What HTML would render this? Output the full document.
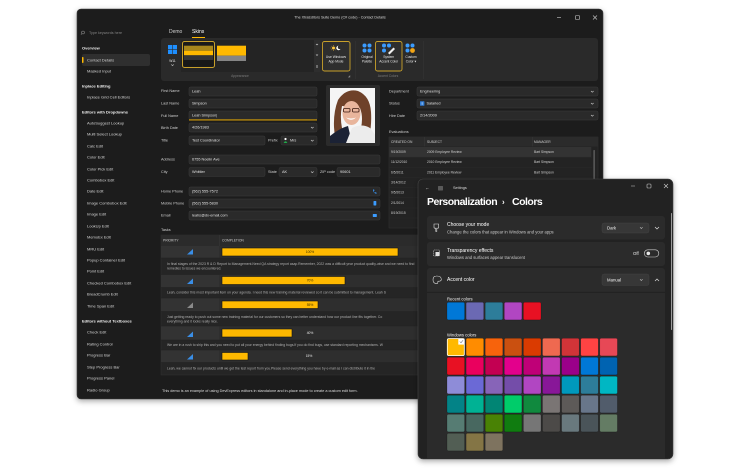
<!DOCTYPE html>
<html><head><meta charset="utf-8"><style>
html,body{margin:0;padding:0;background:#fff;}
svg{display:block}
text{font-family:"Liberation Sans",sans-serif;dominant-baseline:central}
.sb{font-size:4px;fill:#d4d4d4}
.sh{font-size:4px;fill:#f2f2f2;font-weight:bold}
.lb{font-size:3.8px;fill:#cfcfcf}
.iv{font-size:3.8px;fill:#e0e0e0}
.sm{font-size:3.3px;fill:#e6e6e6}
.gh{font-size:3.3px;fill:#cfcfcf}
.ds{font-size:3.4px;fill:#b0b0b0}
.inp{fill:#2a2a2a;stroke:#3a3a3a;stroke-width:0.5}
.chev{fill:none;stroke:#cfcfcf;stroke-width:0.6}
.st{font-size:5px;fill:#fff}
.ss{font-size:4.2px;fill:#c8c8c8}
.sw{stroke:rgba(0,0,0,0.35);stroke-width:0.5}
</style></head><body>
<svg xmlns="http://www.w3.org/2000/svg" width="750" height="476" viewBox="0 0 750 476">
<defs>
<filter id="sh" x="-10%" y="-10%" width="120%" height="125%"><feDropShadow dx="0" dy="2" stdDeviation="3" flood-color="#000" flood-opacity="0.35"/></filter>
<clipPath id="ph"><rect x="330" y="88" width="45" height="55"/></clipPath>
<clipPath id="sc"><rect x="418" y="179" width="255" height="280" rx="5"/></clipPath>
</defs>
<rect width="750" height="476" fill="#fff"/>

<!-- MAIN WINDOW -->
<rect x="77" y="9" width="526" height="390" rx="4" fill="#1e1e1e" stroke="#3c3c3c" stroke-width="0.6" filter="url(#sh)"/>
<text x="340" y="17.5" text-anchor="middle" font-size="3.7" fill="#dcdcdc">The XtraEditors Suite Demo (C# code) - Contact Details</text>
<line x1="557" y1="17.5" x2="561" y2="17.5" stroke="#ccc" stroke-width="0.6"/>
<rect x="575.5" y="15.5" width="4" height="4" rx="0.8" fill="none" stroke="#ccc" stroke-width="0.6"/>
<path d="M593 15.5 L597 19.5 M597 15.5 L593 19.5" stroke="#ccc" stroke-width="0.6"/>

<!-- sidebar -->
<circle cx="83" cy="32.5" r="1.5" fill="none" stroke="#aaa" stroke-width="0.5"/>
<line x1="82" y1="33.6" x2="81" y2="34.8" stroke="#aaa" stroke-width="0.5"/>
<text x="89" y="33" font-size="3.7" fill="#858585">Type keywords here</text>
<text x="82" y="48" class="sh">Overview</text>
<rect x="82" y="54" width="68" height="12" rx="2" fill="#2f2f2f"/>
<rect x="82" y="57" width="1.5" height="6" rx="0.7" fill="#ffb900"/>
<text x="87" y="60" class="sb">Contact Details</text>
<text x="87" y="71" class="sb">Masked Input</text>
<text x="82" y="86" class="sh">Inplace Editing</text>
<text x="87" y="97" class="sb">Inplace Grid Cell Editors</text>
<text x="82" y="112" class="sh">Editors with Dropdowns</text>
<text x="87" y="123" class="sb">AutoSuggest Lookup</text>
<text x="87" y="134" class="sb">Multi Select Lookup</text>
<text x="87" y="146" class="sb">Calc Edit</text>
<text x="87" y="157" class="sb">Color Edit</text>
<text x="87" y="169" class="sb">Color Pick Edit</text>
<text x="87" y="180" class="sb">Combobox Edit</text>
<text x="87" y="191" class="sb">Date Edit</text>
<text x="87" y="203" class="sb">Image Combobox Edit</text>
<text x="87" y="214" class="sb">Image Edit</text>
<text x="87" y="226" class="sb">LookUp Edit</text>
<text x="87" y="237" class="sb">MemoEx Edit</text>
<text x="87" y="249" class="sb">MRU Edit</text>
<text x="87" y="260" class="sb">Popup Container Edit</text>
<text x="87" y="271" class="sb">Point Edit</text>
<text x="87" y="283" class="sb">Checked Combobox Edit</text>
<text x="87" y="294" class="sb">BreadCrumb Edit</text>
<text x="87" y="306" class="sb">Time Span Edit</text>
<text x="82" y="321" class="sh">Editors without Textboxes</text>
<text x="87" y="332" class="sb">Check Edit</text>
<text x="87" y="344" class="sb">Rating Control</text>
<text x="87" y="355" class="sb">Progress Bar</text>
<text x="87" y="367" class="sb">Step Progress Bar</text>
<text x="87" y="378" class="sb">Progress Panel</text>
<text x="87" y="390" class="sb">Radio Group</text>

<!-- tabs -->
<text x="169" y="32" font-size="5" fill="#cfcfcf">Demo</text>
<text x="192" y="32" font-size="5" fill="#fff">Skins</text>
<rect x="192" y="37" width="13" height="1" fill="#ffb900"/>

<!-- ribbon -->
<rect x="161" y="38" width="437" height="43" rx="3" fill="#2a2a2a"/>
<rect x="168" y="45" width="4.2" height="4.2" fill="#1e8fff"/>
<rect x="172.8" y="45" width="4.2" height="4.2" fill="#1e8fff"/>
<rect x="168" y="49.8" width="4.2" height="4.2" fill="#1e8fff"/>
<rect x="172.8" y="49.8" width="4.2" height="4.2" fill="#1e8fff"/>
<text x="172.5" y="61" text-anchor="middle" class="sm">W11</text>
<polyline points="171.3,64.5 172.5,65.6 173.7,64.5" class="chev"/>
<rect x="181" y="40" width="133" height="32" fill="#242424"/>
<rect x="182.5" y="41.5" width="32" height="26" rx="2" fill="#1a1a1a" stroke="#c8a02a" stroke-width="1"/>
<rect x="184" y="45.7" width="29" height="5" fill="#a8871c"/>
<rect x="184" y="50.7" width="29" height="4.6" fill="#ffb900"/>
<rect x="184" y="55.3" width="29" height="4.7" fill="#353535"/>
<rect x="184" y="60" width="29" height="6" fill="#181818"/>
<rect x="217" y="45.7" width="29" height="10" fill="#ffb900"/>
<rect x="217" y="55.7" width="29" height="5.3" fill="#858585"/>
<rect x="314" y="40" width="6" height="32" fill="#2e2e2e"/>
<polyline points="316,45 317,44 318,45" class="chev"/>
<polyline points="316,54.5 317,55.5 318,54.5" class="chev"/>
<path d="M316 65.5 H318 M316 66.5 H318 M316 67.5 H318" stroke="#ccc" stroke-width="0.4"/>
<text x="240" y="76" text-anchor="middle" font-size="3.3" fill="#7a7a7a">Appearance</text>
<rect x="322.5" y="41.5" width="27.5" height="29.5" rx="2" fill="#2e2e2e" stroke="#c8a02a" stroke-width="0.9"/>
<circle cx="333.5" cy="48" r="1.5" fill="#ffc83d"/>
<path d="M333.5 45 V45.8 M333.5 50.2 V51 M330.5 48 H331.3 M335.7 48 H336.5 M331.4 45.9 L332 46.5 M335 49.5 L335.6 50.1 M331.4 50.1 L332 49.5" stroke="#ffc83d" stroke-width="0.5"/>
<circle cx="338.5" cy="48" r="2.2" fill="#fff"/>
<circle cx="339.6" cy="47.2" r="1.8" fill="#2e2e2e"/>
<text x="336" y="57" text-anchor="middle" class="sm">Use Windows</text>
<text x="336" y="61.5" text-anchor="middle" class="sm">App Mode</text>
<text x="349" y="76" text-anchor="middle" font-size="3" fill="#888">◢</text>
<line x1="355.5" y1="41" x2="355.5" y2="79" stroke="#363636" stroke-width="0.5"/>
<circle cx="364.5" cy="45.5" r="2" fill="#3b9cff"/>
<circle cx="369.5" cy="45.5" r="2" fill="#3b9cff"/>
<circle cx="364.5" cy="50.5" r="2" fill="#3b9cff"/>
<circle cx="369.5" cy="50.5" r="2" fill="#3b9cff"/>
<text x="367" y="57" text-anchor="middle" class="sm">Original</text>
<text x="367" y="61.5" text-anchor="middle" class="sm">Palette</text>
<rect x="375.5" y="41.5" width="26.5" height="29.5" rx="2" fill="#2e2e2e" stroke="#c8a02a" stroke-width="0.9"/>
<circle cx="384" cy="45.5" r="2" fill="#3b9cff"/>
<circle cx="389" cy="45.5" r="2" fill="#3b9cff"/>
<circle cx="384" cy="50.5" r="2" fill="#3b9cff"/>
<path d="M388 53 L393.5 47.5 L395 49 L389.5 54.5 Z" fill="#f0f0f0"/>
<text x="388.7" y="57" text-anchor="middle" class="sm">System</text>
<text x="388.7" y="61.5" text-anchor="middle" class="sm">Accent Color</text>
<circle cx="407.5" cy="45.5" r="2" fill="#3b9cff"/>
<circle cx="412.5" cy="45.5" r="2" fill="#3b9cff"/>
<circle cx="407.5" cy="50.5" r="2" fill="#3b9cff"/>
<circle cx="412.5" cy="50.5" r="2.4" fill="#f2a516"/>
<text x="411" y="57" text-anchor="middle" class="sm">Custom</text>
<text x="411" y="61.5" text-anchor="middle" class="sm">Color ▾</text>
<text x="388" y="76" text-anchor="middle" font-size="3.3" fill="#7a7a7a">Accent Colors</text>
<line x1="423.5" y1="41" x2="423.5" y2="79" stroke="#363636" stroke-width="0.5"/>

<!-- left form -->
<text x="161" y="91" class="lb">First Name</text>
<rect x="189" y="87" width="128" height="9" rx="1.5" class="inp"/>
<text x="192" y="91.5" class="iv">Leah</text>
<text x="161" y="103.5" class="lb">Last Name</text>
<rect x="189" y="99" width="128" height="9" rx="1.5" class="inp"/>
<text x="192" y="103.5" class="iv">Simpson</text>
<text x="161" y="116" class="lb">Full Name</text>
<rect x="189" y="111" width="128" height="9" rx="1.5" class="inp"/>
<rect x="189" y="119.5" width="128" height="0.9" fill="#ffb900"/>
<text x="192" y="115.5" class="iv">Leah Simpson|</text>
<text x="161" y="128" class="lb">Birth Date</text>
<rect x="189" y="123" width="128" height="9" rx="1.5" class="inp"/>
<text x="192" y="127.5" class="iv">4/26/1983</text>
<polyline points="311,127 312.3,128.2 313.6,127" class="chev"/>
<text x="161" y="140.5" class="lb">Title</text>
<rect x="189" y="136" width="76" height="9" rx="1.5" class="inp"/>
<text x="192" y="140.5" class="iv">Test Coordinator</text>
<text x="268" y="140.5" class="lb">Prefix</text>
<rect x="281" y="136" width="36" height="9" rx="1.5" class="inp"/>
<circle cx="285.5" cy="139" r="1.1" fill="#fff"/>
<path d="M283.6 143 Q285.5 139.6 287.4 143 Z" fill="#22a84a"/>
<text x="290" y="140.5" class="iv">Mrs</text>
<polyline points="311,140 312.3,141.2 313.6,140" class="chev"/>

<text x="161" y="159.5" class="lb">Address</text>
<rect x="189" y="155" width="191" height="9" rx="1.5" class="inp"/>
<text x="192" y="159.5" class="iv">6755 Noelin Ave</text>
<text x="161" y="172" class="lb">City</text>
<rect x="189" y="167.5" width="76" height="9" rx="1.5" class="inp"/>
<text x="192" y="172" class="iv">Whittier</text>
<text x="268" y="172" class="lb">State</text>
<rect x="279" y="167.5" width="38" height="9" rx="1.5" class="inp"/>
<text x="282" y="172" class="iv">AK</text>
<polyline points="311,171.5 312.3,172.7 313.6,171.5" class="chev"/>
<text x="320" y="172" class="lb">ZIP code</text>
<rect x="337" y="167.5" width="43" height="9" rx="1.5" class="inp"/>
<text x="340" y="172" class="iv">90601</text>
<text x="161" y="191.5" class="lb">Home Phone</text>
<rect x="189" y="187" width="191" height="9" rx="1.5" class="inp"/>
<text x="192" y="191.5" class="iv">(562) 555-7572</text>
<path d="M373 189.5 Q373.3 193.5 376.5 193.8 L376.5 192.6 L375.3 192.3 L374.6 192.8 Q373.9 192.1 373.8 191.3 L374.4 190.8 L374.1 189.5 Z" fill="#3b9cff"/>
<text x="161" y="203.5" class="lb">Mobile Phone</text>
<rect x="189" y="199" width="191" height="9" rx="1.5" class="inp"/>
<text x="192" y="203.5" class="iv">(562) 555-5830</text>
<rect x="373.5" y="201" width="2.8" height="4.5" rx="0.6" fill="#3b9cff"/>
<text x="161" y="215.5" class="lb">Email</text>
<rect x="189" y="211" width="191" height="9" rx="1.5" class="inp"/>
<text x="192" y="215.5" class="iv">leahs@dx-email.com</text>
<rect x="372.8" y="214" width="4" height="3" rx="0.4" fill="#3b9cff"/>

<!-- photo -->
<rect x="326" y="85" width="54" height="61" rx="2" fill="#2b2b2b"/>
<g clip-path="url(#ph)">
<rect x="330" y="88" width="45" height="55" fill="#f5f5f5"/>
<path d="M336 143 Q331 118 338 100 Q346 88 358 91 Q370 96 371 112 Q372 128 368 140 L360 132 Q364 118 360 108 L342 106 Q339 120 344 136 Z" fill="#6e4129"/>
<ellipse cx="351.5" cy="113" rx="9" ry="12" fill="#e8b59c"/>
<path d="M342 106 Q350 96 361 104 Q358 99 351 98 Q344 99 342 106 Z" fill="#6e4129"/>
<rect x="343.5" y="108.5" width="6.5" height="3.5" rx="1" fill="none" stroke="#3a1a10" stroke-width="0.8"/>
<rect x="352.5" y="108.5" width="6.5" height="3.5" rx="1" fill="none" stroke="#3a1a10" stroke-width="0.8"/>
<path d="M346 117.5 Q351 122 356 117.5 Q351 119.5 346 117.5 Z" fill="#fff"/>
<path d="M330 143 L330 136 Q340 128 348 126 L352 143 Z" fill="#1b2235"/>
<path d="M346 143 L352 128 Q362 123 370 128 L376 136 L376 143 Z" fill="#ececec"/>
</g>

<!-- right form -->
<text x="389" y="91.5" class="lb">Department</text>
<rect x="417" y="87" width="181" height="9" rx="1.5" class="inp"/>
<text x="420" y="91.5" class="iv">Engineering</text>
<polyline points="591,91 592.3,92.2 593.6,91" class="chev"/>
<text x="389" y="103.5" class="lb">Status</text>
<rect x="417" y="99" width="181" height="9" rx="1.5" class="inp"/>
<rect x="420" y="101.3" width="4.4" height="4.4" rx="0.5" fill="#2e7bd6"/>
<text x="422.2" y="103.6" text-anchor="middle" font-size="3" fill="#fff">S</text>
<text x="426.5" y="103.5" class="iv">Salaried</text>
<polyline points="591,103 592.3,104.2 593.6,103" class="chev"/>
<text x="389" y="116" class="lb">Hire Date</text>
<rect x="417" y="111" width="181" height="9" rx="1.5" class="inp"/>
<text x="420" y="115.5" class="iv">2/14/2009</text>
<polyline points="591,115 592.3,116.2 593.6,115" class="chev"/>

<text x="389" y="132" class="lb">Evaluations</text>
<rect x="389" y="137" width="209" height="91" fill="#232323" stroke="#333" stroke-width="0.5"/>
<rect x="389" y="137" width="209" height="9.5" fill="#2b2b2b"/>
<text x="391" y="141.8" class="gh">CREATED ON</text>
<text x="427" y="141.8" class="gh">SUBJECT</text>
<text x="534" y="141.8" class="gh">MANAGER</text>
<line x1="424.5" y1="137" x2="424.5" y2="146.5" stroke="#3a3a3a" stroke-width="0.5"/>
<line x1="532.5" y1="137" x2="532.5" y2="146.5" stroke="#3a3a3a" stroke-width="0.5"/>
<rect x="389.3" y="147" width="202" height="10" fill="#333"/>
<g stroke="#2c2c2c" stroke-width="0.4">
<line x1="389" y1="157.2" x2="592" y2="157.2"/><line x1="389" y1="167.3" x2="592" y2="167.3"/><line x1="389" y1="177.5" x2="592" y2="177.5"/><line x1="389" y1="187.6" x2="592" y2="187.6"/><line x1="389" y1="197.8" x2="592" y2="197.8"/><line x1="389" y1="208" x2="592" y2="208"/><line x1="389" y1="218" x2="592" y2="218"/>
</g>
<text x="391" y="152" class="gh" fill="#e6e6e6">9/19/2009</text>
<text x="427" y="152" class="gh">2009 Employee Review</text>
<text x="534" y="152" class="gh">Bart Simpson</text>
<text x="391" y="162.2" class="gh">11/12/2010</text>
<text x="427" y="162.2" class="gh">2010 Employee Review</text>
<text x="534" y="162.2" class="gh">Bart Simpson</text>
<text x="391" y="172.3" class="gh">6/5/2011</text>
<text x="427" y="172.3" class="gh">2011 Employee Review</text>
<text x="534" y="172.3" class="gh">Bart Simpson</text>
<text x="391" y="182.5" class="gh">3/14/2012</text>
<text x="391" y="192.6" class="gh">9/5/2013</text>
<text x="391" y="202.8" class="gh">2/1/2014</text>
<text x="391" y="213" class="gh">8/19/2015</text>
<rect x="593.5" y="150" width="1.2" height="50" rx="0.6" fill="#6a6a6a"/>

<!-- tasks -->
<text x="161" y="230" class="lb">Tasks</text>
<rect x="161" y="235" width="437" height="140" fill="#252525" stroke="#303030" stroke-width="0.5"/>
<rect x="161" y="235" width="437" height="11" fill="#2b2b2b"/>
<text x="163" y="240.5" class="gh">PRIORITY</text>
<text x="222" y="240.5" class="gh">COMPLETION</text>
<line x1="219.5" y1="235" x2="219.5" y2="246" stroke="#3a3a3a" stroke-width="0.5"/>

<!-- row bars backgrounds -->
<rect x="161" y="246" width="437" height="12" fill="#2e2e2e"/>
<rect x="161" y="246" width="58" height="12" fill="#333"/>
<rect x="161" y="274.5" width="437" height="13" fill="#2e2e2e"/>
<rect x="161" y="274.5" width="58" height="13" fill="#333"/>
<rect x="161" y="298" width="437" height="13.5" fill="#2e2e2e"/>
<rect x="161" y="298" width="58" height="13.5" fill="#333"/>
<rect x="161" y="326" width="437" height="14" fill="#2e2e2e"/>
<rect x="161" y="326" width="58" height="14" fill="#333"/>
<rect x="161" y="350" width="437" height="12.5" fill="#2e2e2e"/>
<rect x="161" y="350" width="58" height="12.5" fill="#333"/>
<g stroke="#222" stroke-width="0.5">
<line x1="161" y1="258" x2="598" y2="258"/><line x1="161" y1="274.5" x2="598" y2="274.5"/><line x1="161" y1="287.5" x2="598" y2="287.5"/><line x1="161" y1="298" x2="598" y2="298"/><line x1="161" y1="311.5" x2="598" y2="311.5"/><line x1="161" y1="326" x2="598" y2="326"/><line x1="161" y1="340" x2="598" y2="340"/><line x1="161" y1="350" x2="598" y2="350"/><line x1="161" y1="362.5" x2="598" y2="362.5"/>
</g>
<!-- priority icons -->
<g fill="#3a8ee6">
<path d="M187 254.5 L193 249 L193 254.5 Z"/>
<path d="M187 284 L193 278.5 L193 284 Z"/>
<path d="M187 337 L193 331.5 L193 337 Z"/>
<path d="M187 359.5 L193 354 L193 359.5 Z"/>
</g>
<path d="M187 308 L193 302.5 L193 308 Z" fill="#8a8a8a"/>
<!-- bars -->
<g stroke="#151515" stroke-width="0.6" fill="#ffb900">
<rect x="222" y="248" width="176" height="8"/>
<rect x="222" y="276.5" width="123" height="8"/>
<rect x="222" y="301" width="96" height="7.5"/>
<rect x="222" y="329" width="70" height="8"/>
<rect x="222" y="352.5" width="26" height="7.5"/>
</g>
<text x="310" y="252.2" text-anchor="middle" font-size="3.3" fill="#3a3000">100%</text>
<text x="310" y="280.6" text-anchor="middle" font-size="3.3" fill="#3a3000">70%</text>
<text x="310" y="304.8" text-anchor="middle" font-size="3.3" fill="#3a3000">55%</text>
<text x="310" y="333" text-anchor="middle" font-size="3.3" fill="#e6e6e6">40%</text>
<text x="309" y="356.2" text-anchor="middle" font-size="3.3" fill="#e6e6e6">15%</text>
<!-- descriptions -->
<text x="167" y="264" class="ds">In final stages of the 2023 R &amp; D Report to Management.Need QA strategy report asap.Remember, 2022 was a difficult year product quality-wise and we need to find</text>
<text x="167" y="268.5" class="ds">remedies to issues we encountered.</text>
<text x="167" y="292.5" class="ds">Leah, consider this most important item on your agenda. I need this new training material reviewed so it can be submitted to management. Leah S</text>
<text x="167" y="317" class="ds">Just getting ready to push out some new training material for our customers so they can better understand how our product line fits together. Co</text>
<text x="167" y="321.5" class="ds">everything and it looks really nice.</text>
<text x="167" y="345" class="ds">We are in a rush to ship this and you need to put all your energy behind finding bugs.If you do find bugs, use standard reporting mechanisms. W</text>
<text x="167" y="368.5" class="ds">Leah, we cannot fix our products until we get the test report from you.Please send everything you have by e-mail as I can distribute it in the</text>

<text x="162" y="391" font-size="3.8" fill="#dcdcdc">This demo is an example of using DevExpress editors in standalone and in-place mode to create a custom edit form.</text>

<!-- SETTINGS WINDOW -->
<rect x="418" y="179" width="255" height="280" rx="5" fill="#202020" stroke="#444" stroke-width="0.6" filter="url(#sh)"/>
<g clip-path="url(#sc)">
<text x="425" y="188" font-size="4.5" fill="#ccc">←</text>
<rect x="438" y="186" width="5" height="4.5" rx="0.6" fill="#5a5a5a"/>
<text x="453" y="188" font-size="3.8" fill="#dcdcdc">Settings</text>
<line x1="631" y1="186" x2="635" y2="186" stroke="#ccc" stroke-width="0.6"/>
<rect x="647" y="184" width="4" height="4" rx="0.8" fill="none" stroke="#ccc" stroke-width="0.6"/>
<path d="M664 184 L668 188 M668 184 L664 188" stroke="#ccc" stroke-width="0.6"/>
<text x="427" y="202" font-size="10.5" font-weight="bold" letter-spacing="-0.5" fill="#fff">Personalization</text>
<text x="502" y="202" font-size="8" font-weight="bold" fill="#fff">›</text>
<text x="512" y="202" font-size="10.5" font-weight="bold" letter-spacing="-0.5" fill="#fff">Colors</text>

<!-- card 1 -->
<rect x="427" y="216" width="238" height="23.5" rx="3" fill="#2b2b2b"/>
<path d="M434 224 h4.6 v3.2 q0 1 -1 1 h-0.8 v3.3 h-1 v-3.3 h-0.8 q-1 0 -1 -1 Z" fill="none" stroke="#e0e0e0" stroke-width="0.6"/>
<text x="447" y="225" class="st">Choose your mode</text>
<text x="447" y="232" class="ss">Change the colors that appear in Windows and your apps</text>
<rect x="602" y="223" width="47" height="10" rx="2" fill="#373737" stroke="#444" stroke-width="0.4"/>
<text x="607" y="228" font-size="4.3" fill="#eee">Dark</text>
<polyline points="640,227.3 641.3,228.5 642.6,227.3" class="chev"/>
<polyline points="655,227 657,229 659,227" fill="none" stroke="#ddd" stroke-width="0.7"/>

<!-- card 2 -->
<rect x="427" y="242" width="238" height="24" rx="3" fill="#2b2b2b"/>
<rect x="433.5" y="250" width="6" height="6" rx="0.8" fill="none" stroke="#e0e0e0" stroke-width="0.6" stroke-dasharray="1.2 0.8"/>
<rect x="435.5" y="252" width="4" height="4" fill="#e0e0e0"/>
<text x="447" y="251" class="st">Transparency effects</text>
<text x="447" y="257.5" class="ss">Windows and surfaces appear translucent</text>
<text x="633" y="253.5" font-size="4.3" fill="#eee">Off</text>
<rect x="644.3" y="249.8" width="14.5" height="7.2" rx="3.6" fill="none" stroke="#d0d0d0" stroke-width="0.6"/>
<circle cx="648.3" cy="253.4" r="1.8" fill="#e8e8e8"/>

<!-- card 3 -->
<rect x="427" y="268" width="238" height="200" rx="3" fill="#2b2b2b"/>
<line x1="427" y1="292.3" x2="665" y2="292.3" stroke="#1f1f1f" stroke-width="0.8"/>
<path d="M436.5 276 q-3.5 0 -3.5 3.8 q0 3.8 3.8 3.8 q1.2 0 1 -1.2 q-0.3 -1.2 1 -1.2 q2.5 0 2.5 -2 q0 -3.2 -4.8 -3.2 Z" fill="none" stroke="#e0e0e0" stroke-width="0.6"/>
<text x="447" y="280" class="st">Accent color</text>
<rect x="602" y="274" width="47" height="11.5" rx="2" fill="#373737" stroke="#444" stroke-width="0.4"/>
<text x="607" y="280" font-size="4.3" fill="#eee">Manual</text>
<polyline points="640,279.3 641.3,280.5 642.6,279.3" class="chev"/>
<polyline points="655,281 657,279 659,281" fill="none" stroke="#ddd" stroke-width="0.7"/>

<text x="447" y="299" font-size="4.2" fill="#eee">Recent colors</text>
<rect class="sw" x="447" y="302.3" width="17.6" height="17.6" rx="1.5" fill="#0078d7"/>
<rect class="sw" x="466.1" y="302.3" width="17.6" height="17.6" rx="1.5" fill="#6b69b3"/>
<rect class="sw" x="485.2" y="302.3" width="17.6" height="17.6" rx="1.5" fill="#2d7d9a"/>
<rect class="sw" x="504.3" y="302.3" width="17.6" height="17.6" rx="1.5" fill="#b146c2"/>
<rect class="sw" x="523.4" y="302.3" width="17.6" height="17.6" rx="1.5" fill="#e81123"/>

<text x="447" y="335" font-size="4.2" fill="#eee">Windows colors</text>
<!-- row 1 -->
<rect class="sw" x="447" y="338.3" width="17.6" height="17.6" rx="1.5" fill="#ffb900"/>
<rect class="sw" x="466.1" y="338.3" width="17.6" height="17.6" rx="1.5" fill="#ff8c00"/>
<rect class="sw" x="485.2" y="338.3" width="17.6" height="17.6" rx="1.5" fill="#f7630c"/>
<rect class="sw" x="504.3" y="338.3" width="17.6" height="17.6" rx="1.5" fill="#ca5010"/>
<rect class="sw" x="523.4" y="338.3" width="17.6" height="17.6" rx="1.5" fill="#da3b01"/>
<rect class="sw" x="542.5" y="338.3" width="17.6" height="17.6" rx="1.5" fill="#ef6950"/>
<rect class="sw" x="561.6" y="338.3" width="17.6" height="17.6" rx="1.5" fill="#d13438"/>
<rect class="sw" x="580.7" y="338.3" width="17.6" height="17.6" rx="1.5" fill="#ff4343"/>
<rect class="sw" x="599.8" y="338.3" width="17.6" height="17.6" rx="1.5" fill="#e74856"/>
<!-- row 2 -->
<rect class="sw" x="447" y="357.3" width="17.6" height="17.6" rx="1.5" fill="#e81123"/>
<rect class="sw" x="466.1" y="357.3" width="17.6" height="17.6" rx="1.5" fill="#ea005e"/>
<rect class="sw" x="485.2" y="357.3" width="17.6" height="17.6" rx="1.5" fill="#c30052"/>
<rect class="sw" x="504.3" y="357.3" width="17.6" height="17.6" rx="1.5" fill="#e3008c"/>
<rect class="sw" x="523.4" y="357.3" width="17.6" height="17.6" rx="1.5" fill="#bf0077"/>
<rect class="sw" x="542.5" y="357.3" width="17.6" height="17.6" rx="1.5" fill="#c239b3"/>
<rect class="sw" x="561.6" y="357.3" width="17.6" height="17.6" rx="1.5" fill="#9a0089"/>
<rect class="sw" x="580.7" y="357.3" width="17.6" height="17.6" rx="1.5" fill="#0078d7"/>
<rect class="sw" x="599.8" y="357.3" width="17.6" height="17.6" rx="1.5" fill="#0063b1"/>
<!-- row 3 -->
<rect class="sw" x="447" y="376.3" width="17.6" height="17.6" rx="1.5" fill="#8e8cd8"/>
<rect class="sw" x="466.1" y="376.3" width="17.6" height="17.6" rx="1.5" fill="#6b69d6"/>
<rect class="sw" x="485.2" y="376.3" width="17.6" height="17.6" rx="1.5" fill="#8764b8"/>
<rect class="sw" x="504.3" y="376.3" width="17.6" height="17.6" rx="1.5" fill="#744da9"/>
<rect class="sw" x="523.4" y="376.3" width="17.6" height="17.6" rx="1.5" fill="#b146c2"/>
<rect class="sw" x="542.5" y="376.3" width="17.6" height="17.6" rx="1.5" fill="#881798"/>
<rect class="sw" x="561.6" y="376.3" width="17.6" height="17.6" rx="1.5" fill="#0099bc"/>
<rect class="sw" x="580.7" y="376.3" width="17.6" height="17.6" rx="1.5" fill="#2d7d9a"/>
<rect class="sw" x="599.8" y="376.3" width="17.6" height="17.6" rx="1.5" fill="#00b7c3"/>
<!-- row 4 -->
<rect class="sw" x="447" y="395.3" width="17.6" height="17.6" rx="1.5" fill="#038387"/>
<rect class="sw" x="466.1" y="395.3" width="17.6" height="17.6" rx="1.5" fill="#00b294"/>
<rect class="sw" x="485.2" y="395.3" width="17.6" height="17.6" rx="1.5" fill="#018574"/>
<rect class="sw" x="504.3" y="395.3" width="17.6" height="17.6" rx="1.5" fill="#00cc6a"/>
<rect class="sw" x="523.4" y="395.3" width="17.6" height="17.6" rx="1.5" fill="#10893e"/>
<rect class="sw" x="542.5" y="395.3" width="17.6" height="17.6" rx="1.5" fill="#7a7574"/>
<rect class="sw" x="561.6" y="395.3" width="17.6" height="17.6" rx="1.5" fill="#5d5a58"/>
<rect class="sw" x="580.7" y="395.3" width="17.6" height="17.6" rx="1.5" fill="#68768a"/>
<rect class="sw" x="599.8" y="395.3" width="17.6" height="17.6" rx="1.5" fill="#515c6b"/>
<!-- row 5 -->
<rect class="sw" x="447" y="414.3" width="17.6" height="17.6" rx="1.5" fill="#567c73"/>
<rect class="sw" x="466.1" y="414.3" width="17.6" height="17.6" rx="1.5" fill="#486860"/>
<rect class="sw" x="485.2" y="414.3" width="17.6" height="17.6" rx="1.5" fill="#498205"/>
<rect class="sw" x="504.3" y="414.3" width="17.6" height="17.6" rx="1.5" fill="#107c10"/>
<rect class="sw" x="523.4" y="414.3" width="17.6" height="17.6" rx="1.5" fill="#767676"/>
<rect class="sw" x="542.5" y="414.3" width="17.6" height="17.6" rx="1.5" fill="#4c4a48"/>
<rect class="sw" x="561.6" y="414.3" width="17.6" height="17.6" rx="1.5" fill="#69797e"/>
<rect class="sw" x="580.7" y="414.3" width="17.6" height="17.6" rx="1.5" fill="#4a5459"/>
<rect class="sw" x="599.8" y="414.3" width="17.6" height="17.6" rx="1.5" fill="#647c64"/>
<!-- row 6 -->
<rect class="sw" x="447" y="433.3" width="17.6" height="17.6" rx="1.5" fill="#525e54"/>
<rect class="sw" x="466.1" y="433.3" width="17.6" height="17.6" rx="1.5" fill="#847545"/>
<rect class="sw" x="485.2" y="433.3" width="17.6" height="17.6" rx="1.5" fill="#7e735f"/>
<!-- selected -->
<rect x="447.3" y="338.6" width="17" height="17" rx="1.5" fill="none" stroke="#fff" stroke-width="0.8"/>
<rect x="458.3" y="338.6" width="6" height="6" fill="#fff"/>
<path d="M459.8 341.6 L461 342.8 L463 340.2" fill="none" stroke="#333" stroke-width="0.5"/>
<rect x="671" y="213" width="1" height="117" rx="0.5" fill="#9a9a9a"/>
</g>
</svg>
</body></html>
